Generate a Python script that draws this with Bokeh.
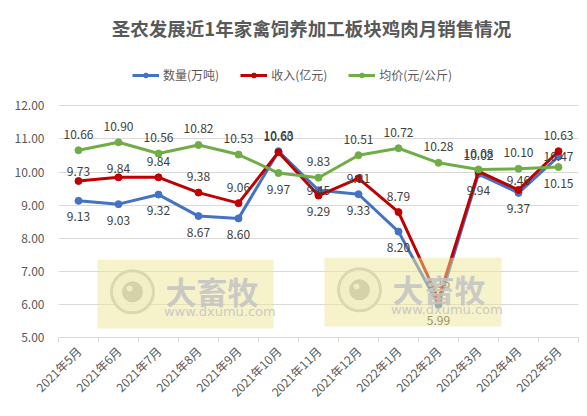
import math
from bokeh.plotting import figure
from bokeh.models import (Range1d, FixedTicker, Legend, LegendItem, ColumnDataSource,
                          BoxAnnotation, Label, PrintfTickFormatter)
from bokeh.core.properties import value
from bokeh.embed import file_html
from bokeh.resources import INLINE

# ---- data ----
months = ["2021年5月", "2021年6月", "2021年7月", "2021年8月", "2021年9月", "2021年10月",
          "2021年11月", "2021年12月", "2022年1月", "2022年2月", "2022年3月", "2022年4月", "2022年5月"]
quantity = [9.13, 9.03, 9.32, 8.67, 8.60, 10.63, 9.45, 9.33, 8.20, 5.99, 9.94, 9.37, 10.47]   # 数量(万吨)
revenue = [9.73, 9.84, 9.84, 9.38, 9.06, 10.60, 9.29, 9.81, 8.79, 6.16, 10.02, 9.46, 10.63]   # 收入(亿元)
price = [10.66, 10.90, 10.56, 10.82, 10.53, 9.97, 9.83, 10.51, 10.72, 10.28, 10.08, 10.10, 10.15]  # 均价(元/公斤)
series_names = ["数量(万吨)", "收入(亿元)", "均价(元/公斤)"]
y_ticks = [5, 6, 7, 8, 9, 10, 11, 12]
title_text = "圣农发展近1年家禽饲养加工板块鸡肉月销售情况"

# ---- styles ----
colors = ["#4472C4", "#C00000", "#70AD47"]
# data-label placement codes: a=above, b=below, c=centered, n=near above
placements = [
    list("bbbbbacbbbbbc"),
    list("nnaaaabcaaana"),
    list("aaaaabaaaaaab"),
]
offsets = {"a": -16, "b": 16, "c": 0, "n": -9}
FONT = "Noto Sans CJK SC"
GRAY = "#595959"
Y_TOP = 15.185   # head room above 12.00 for title and legend

xs = [i + 0.5 for i in range(len(months))]

p = figure(width=579, height=408, x_range=Range1d(0, len(months)), y_range=Range1d(5, Y_TOP),
           output_backend="svg", toolbar_location=None, title_location=None,
           min_border_left=58, min_border_right=1, min_border_bottom=69, min_border_top=0)
p.outline_line_color = None
p.background_fill_color = "white"

# axes
p.xaxis.ticker = FixedTicker(ticks=xs, minor_ticks=list(range(len(months) + 1)))
p.xaxis.major_label_overrides = {x: m for x, m in zip(xs, months)}
p.xaxis.major_label_orientation = math.pi / 4
p.xaxis.major_tick_out = 0
p.xaxis.major_tick_in = 0
p.xaxis.minor_tick_out = 5
p.xaxis.minor_tick_in = 0
p.xaxis.minor_tick_line_color = "#D9D9D9"
p.xaxis.axis_line_color = "#D9D9D9"
p.xaxis.major_label_text_font = FONT
p.xaxis.major_label_text_font_size = "12px"
p.xaxis.major_label_text_color = GRAY
p.xaxis.major_label_standoff = 6

p.yaxis.ticker = FixedTicker(ticks=y_ticks)
p.yaxis.formatter = PrintfTickFormatter(format="%.2f")
p.yaxis.axis_line_color = None
p.yaxis.major_tick_out = 0
p.yaxis.major_tick_in = 0
p.yaxis.minor_tick_line_color = None
p.yaxis.major_label_text_font = FONT
p.yaxis.major_label_text_font_size = "12px"
p.yaxis.major_label_text_color = GRAY
p.yaxis.major_label_standoff = 14

p.xgrid.grid_line_color = None
p.ygrid.grid_line_color = "#D9D9D9"

# title
p.add_layout(Label(x=6.325, y=14.343, text=title_text, text_font=FONT, text_font_size="18.5px",
                   text_font_style="bold", text_color=GRAY, text_align="center",
                   text_baseline="middle"))

items = []
for name, vals, col in zip(series_names, [quantity, revenue, price], colors):
    src = ColumnDataSource(dict(x=xs, y=vals))
    ln = p.line("x", "y", source=src, line_color=col, line_width=3)
    sc = p.scatter("x", "y", source=src, size=7, fill_color=col, line_color=col)
    items.append(LegendItem(label=name, renderers=[ln, sc]))

# watermark boxes (decoration)
for (l, r, b, t) in [(0.975, 5.375, 5.27, 7.35), (6.65, 11.075, 5.33, 7.41)]:
    cy = (b + t) / 2 + 0.07
    p.add_layout(BoxAnnotation(left=l, right=r, bottom=b, top=t, fill_color="#EEE595",
                               fill_alpha=0.5, line_color=None, level="overlay"))
    p.scatter([l + 0.875], [cy], size=42, fill_color="#F6F6F6", fill_alpha=0.85,
              line_color="#C8C8C8", line_width=3, level="overlay")
    p.scatter([l + 0.875], [cy], size=21, fill_color="#BDBDBD", line_color=None,
              level="overlay")
    p.scatter([l + 0.8], [cy + 0.1], size=6, fill_color="#F0F0F0", line_color=None,
              level="overlay")
    p.add_layout(Label(x=l + 1.7, y=cy + 0.05, text="大畜牧", text_font=FONT,
                       text_font_size="31px", text_font_style="bold", text_color="#C4C4C4",
                       text_alpha=0.9, text_baseline="middle", level="overlay"))
    p.add_layout(Label(x=l + 1.66, y=cy - 0.58, text="www.dxumu.com", text_font="DejaVu Sans",
                       text_font_size="13px", text_color="#C4C4C4", text_alpha=0.9,
                       text_baseline="middle", level="overlay"))

# data labels
for vals, codes in zip([quantity, revenue, price], placements):
    src = ColumnDataSource(dict(x=xs, y=vals, t=[f"{v:.2f}" for v in vals],
                                dy=[offsets[c] for c in codes]))
    p.text("x", "y", text="t", source=src, y_offset="dy", text_font=value(FONT),
           text_font_size="12px", text_color="#404040", text_align="center",
           text_baseline="middle")

legend = Legend(items=items, orientation="horizontal", location=(74, 254),
                glyph_width=27, glyph_height=12, label_standoff=4, spacing=21,
                label_text_font=FONT, label_text_font_size="12px", label_text_color=GRAY,
                border_line_color=None, background_fill_alpha=0, padding=4, margin=0)
p.add_layout(legend, "center")

open("out.html", "w").write(file_html(p, INLINE))
